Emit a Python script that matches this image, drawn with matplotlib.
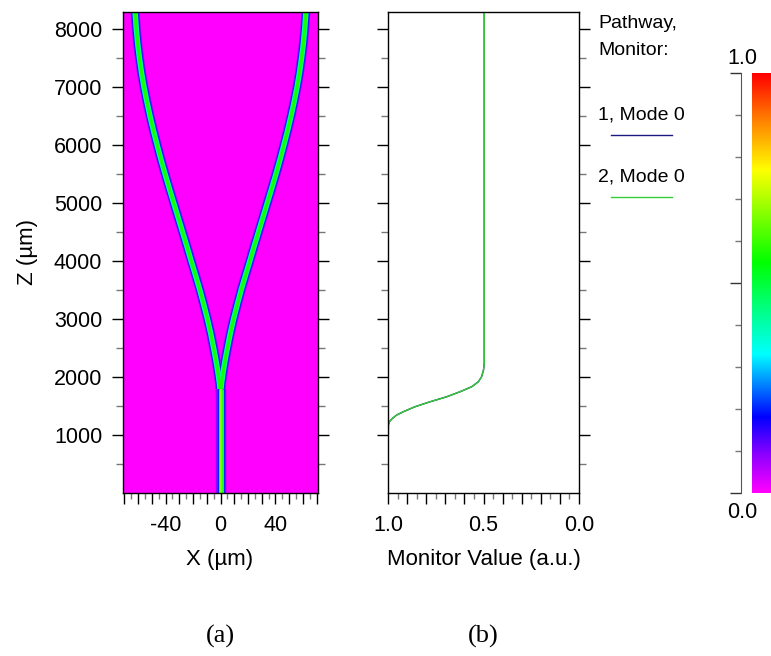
# Y-branch beam propagation: field map (a), monitor values (b), colour scale

import numpy as np
import matplotlib
matplotlib.use('Agg')
import matplotlib.pyplot as plt
from matplotlib.colors import LinearSegmentedColormap
from matplotlib.lines import Line2D

plt.rcParams['font.family'] = ['Liberation Sans', 'DejaVu Sans']

# waveguide path, z in um, x in um
trunk_z = [0, 1800]
trunk_x = [0, 0]
branch_z = [1700, 1900, 2100, 2300, 2500, 2750, 3000, 3250, 3500, 3750, 4000,
            4250, 4500, 4750, 5000, 5250, 5500, 5750, 6000, 6250, 6500, 6750,
            7000, 7250, 7500, 7750, 8000, 8300]
branch_right_x = [0, 0.8, 2.0, 3.4, 5.0, 7.1, 9.5, 12.2, 15.0, 18.1, 21.3,
                  24.4, 27.6, 30.8, 34.0, 37.2, 40.3, 43.3, 46.1, 48.8, 51.3,
                  53.6, 55.7, 57.5, 59.0, 60.3, 61.3, 62.2]
branch_left_x = [0, -0.8, -2.0, -3.4, -5.0, -7.1, -9.5, -12.2, -15.0, -18.1,
                 -21.3, -24.4, -27.6, -30.8, -34.0, -37.2, -40.3, -43.3, -46.1,
                 -48.8, -51.3, -53.6, -55.7, -57.5, -59.0, -60.3, -61.3, -62.2]

# monitor values
monitor_z = [0, 1172, 1230, 1287, 1345, 1402, 1488, 1574, 1660, 1747, 1833,
             1919, 2006, 2121, 2236, 2500, 8300]
monitor_1 = [1.0, 0.998, 0.993, 0.977, 0.955, 0.92, 0.859, 0.78, 0.693, 0.623,
             0.562, 0.527, 0.51, 0.5, 0.496, 0.496, 0.496]
monitor_2 = [1.0, 0.998, 0.993, 0.977, 0.955, 0.92, 0.859, 0.78, 0.693, 0.623,
             0.562, 0.527, 0.51, 0.5, 0.496, 0.496, 0.496]

z_ticks = [1000, 2000, 3000, 4000, 5000, 6000, 7000, 8000]
z_minor = [500, 1500, 2500, 3500, 4500, 5500, 6500, 7500]
x_labels = {-40: '-40', 0: '0', 40: '40'}
mon_labels = {1.0: '1.0', 0.5: '0.5', 0.0: '0.0'}

rainbow = LinearSegmentedColormap.from_list('bpm', [
    (0.0, (1, 0, 1)), (0.09, (0.55, 0, 1)), (0.18, (0, 0, 1)),
    (0.33, (0, 1, 1)), (0.55, (0, 1, 0)), (0.77, (1, 1, 0)),
    (0.89, (1, 0.5, 0)), (1.0, (1, 0, 0))])

W, H = 771, 656
fig = plt.figure(figsize=(W / 100, H / 100), dpi=100)


def box(x0, y0, x1, y1):
    return [x0 / W, 1 - y1 / H, (x1 - x0) / W, (y1 - y0) / H]


def z_axis(ax):
    ax.set_ylim(0, 8300)
    ax.set_yticks(z_ticks)
    ax.set_yticks(z_minor, minor=True)
    ax.tick_params(axis='y', which='both', left=True, right=True, direction='out')
    ax.tick_params(axis='y', which='major', length=8, width=1)
    ax.tick_params(axis='y', which='minor', length=5, width=1, color='#777777')
    for s in ax.spines.values():
        s.set_linewidth(1)


# (a) field map
ax_a = fig.add_axes(box(123, 12, 318, 493))
ax_a.set_facecolor(rainbow(0.0))
ax_a.set_xlim(-71, 71)
z_axis(ax_a)
ax_a.set_yticklabels([str(z) for z in z_ticks], fontsize=15.5)
ax_a.tick_params(axis='y', pad=7)

paths = [(branch_left_x, branch_z), (branch_right_x, branch_z)]
for lw, lev in [(6.5, 0.09), (5.2, 0.2), (3.9, 0.4), (2.4, 0.57)]:
    for px, pz in paths:
        ax_a.plot(px, pz, color=rainbow(lev), lw=lw, solid_capstyle='butt',
                  solid_joinstyle='round')
for lw, lev in [(7.5, 0.09), (5.0, 0.2), (3.6, 0.5), (1.7, 0.66), (0.8, 0.84)]:
    ax_a.plot(trunk_x, trunk_z, color=rainbow(lev), lw=lw, solid_capstyle='butt')

ax_a.set_xticks(np.arange(-70, 71, 10))
ax_a.set_xticks(np.arange(-65, 70, 10), minor=True)
ax_a.set_xticklabels([x_labels.get(int(v), '') for v in np.arange(-70, 71, 10)],
                     fontsize=15.5)
ax_a.tick_params(axis='x', which='major', length=8, width=1, direction='out', pad=8)
ax_a.tick_params(axis='x', which='minor', length=4.5, width=1, direction='out',
                 color='#777777')

# (b) monitor values
ax_b = fig.add_axes(box(388, 12, 579, 493))
ax_b.plot(monitor_1, monitor_z, color='#1a1a80', lw=1)
ax_b.plot(monitor_2, monitor_z, color='#33cc33', lw=1)
ax_b.set_xlim(1.0, 0.0)
z_axis(ax_b)
ax_b.set_yticklabels([])
ax_b.set_xticks(np.round(np.arange(0, 1.01, 0.1), 2))
ax_b.set_xticks(np.round(np.arange(0.05, 1.0, 0.1), 2), minor=True)
ax_b.set_xticklabels([mon_labels.get(round(v, 1), '') for v in np.arange(0, 1.01, 0.1)],
                     fontsize=15.5)
ax_b.tick_params(axis='x', which='major', length=8, width=1, direction='out', pad=8)
ax_b.tick_params(axis='x', which='minor', length=4.5, width=1, direction='out',
                 color='#777777')

# colour scale
ax_c = fig.add_axes(box(741, 73, 790, 493))
ax_c.imshow(np.linspace(0, 1, 256).reshape(-1, 1), cmap=rainbow, origin='lower',
            aspect='auto', extent=[11, 49, 0, 1])
ax_c.set_xlim(0, 49)
ax_c.set_ylim(0, 1)
for side in ['top', 'right', 'bottom']:
    ax_c.spines[side].set_visible(False)
ax_c.spines['left'].set_color('#555555')
ax_c.set_xticks([])
ax_c.set_yticks([0, 0.5, 1])
ax_c.set_yticks([0.1, 0.2, 0.3, 0.4, 0.6, 0.7, 0.8, 0.9], minor=True)
ax_c.set_yticklabels([])
ax_c.tick_params(axis='y', which='major', length=8, width=1, color='#333333')
ax_c.tick_params(axis='y', which='minor', length=4, width=1, color='#777777')

# texts
fig.text(742 / W, 1 - 58 / H, '1.0', ha='center', va='center', fontsize=15.5)
fig.text(742 / W, 1 - 512 / H, '0.0', ha='center', va='center', fontsize=15.5)
fig.text(27 / W, 1 - 252 / H, 'Z (µm)', rotation=90, ha='center', va='center',
         fontsize=16)
fig.text(220 / W, 1 - 560 / H, 'X (µm)', ha='center', va='center', fontsize=16)
fig.text(483.5 / W, 1 - 560 / H, 'Monitor Value (a.u.)', ha='center', va='center',
         fontsize=16)
fig.text(220 / W, 1 - 636 / H, '(a)', ha='center', va='center', fontsize=19,
         family='Liberation Serif')
fig.text(483.5 / W, 1 - 636 / H, '(b)', ha='center', va='center', fontsize=19,
         family='Liberation Serif')

# legend
fig.text(598 / W, 1 - 28 / H, 'Pathway,', ha='left', va='baseline', fontsize=14)
fig.text(598 / W, 1 - 55 / H, 'Monitor:', ha='left', va='baseline', fontsize=14)
fig.text(598 / W, 1 - 119 / H, '1, Mode 0', ha='left', va='baseline', fontsize=14)
fig.text(598 / W, 1 - 182 / H, '2, Mode 0', ha='left', va='baseline', fontsize=14)
fig.add_artist(Line2D([611 / W, 672 / W], [1 - 135 / H, 1 - 135 / H],
                      color='#1a1a80', lw=1))
fig.add_artist(Line2D([611 / W, 672 / W], [1 - 197 / H, 1 - 197 / H],
                      color='#33cc33', lw=1))

fig.savefig('out.png', dpi=100)
